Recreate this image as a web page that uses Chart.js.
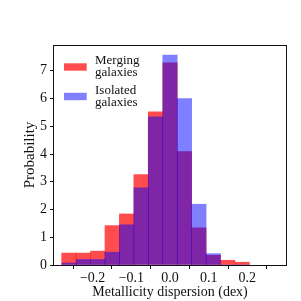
<!DOCTYPE html>
<html>
<head>
<meta charset="utf-8">
<script src="https://cdn.jsdelivr.net/npm/chart.js@4/dist/chart.umd.min.js"></script>
<style>
  html, body { margin: 0; padding: 0; background: #fff; }
  #wrap { width: 301px; height: 301px; }
</style>
</head>
<body>
<div id="wrap"><canvas id="c" width="301" height="301"></canvas></div>
<script>
// Bin centres (dex) of the metallicity dispersion histogram
const binCenters = [-0.2615, -0.2242, -0.1868, -0.1495, -0.1122, -0.0748, -0.0375,
                    0.0, 0.0373, 0.0747, 0.1120, 0.1493, 0.1867];
// Probability densities
const merging  = [0.43, 0.43, 0.50, 1.42, 1.84, 3.26, 5.52, 7.29, 4.09, 1.34, 0.35, 0.17, 0.10];
const isolated = [0.07, 0.20, 0.20, 0.46, 1.45, 2.78, 5.34, 7.57, 6.00, 2.19, 0.41, 0.0, 0.0];
// Axis ticks
const xTicks = [-0.2, -0.1, 0.0, 0.1, 0.2];
const yTicks = [0, 1, 2, 3, 4, 5, 6, 7];
const seriesLabels = [['Merging', 'galaxies'], ['Isolated', 'galaxies']];

const FONT = '"Liberation Serif", "DejaVu Serif", serif';
const RED = 'rgba(255, 0, 0, 0.7)';
const BLUE = 'rgba(0, 0, 255, 0.5)';

const toPoints = vals => vals.map((v, i) => ({ x: binCenters[i], y: v }));

// frame around the plot + legend in the upper left corner
const framePlugin = {
  id: 'frame',
  afterDraw(chart) {
    const { ctx, chartArea: a } = chart;
    ctx.save();
    ctx.strokeStyle = '#111';
    ctx.lineWidth = 1;
    ctx.strokeRect(Math.round(a.left) - 0.5, Math.round(a.top) + 0.5,
                   Math.round(a.right - a.left) + 1, Math.round(a.bottom - a.top));

    // legend
    const items = [
      { color: RED, text: seriesLabels[0], cy: 67 },
      { color: BLUE, text: seriesLabels[1], cy: 96.5 }
    ];
    ctx.font = '13px ' + FONT;
    ctx.textBaseline = 'middle';
    ctx.textAlign = 'left';
    items.forEach(it => {
      ctx.fillStyle = it.color;
      ctx.fillRect(64, it.cy - 3.7, 22.7, 7.4);
      ctx.fillStyle = '#111';
      ctx.fillText(it.text[0], 95, it.cy - 6);
      ctx.fillText(it.text[1], 95, it.cy + 6);
    });
    ctx.restore();
  }
};

new Chart(document.getElementById('c'), {
  type: 'bar',
  data: {
    datasets: [
      {
        label: 'Merging galaxies',
        data: toPoints(merging),
        backgroundColor: RED,
        borderWidth: 0,
        order: 1
      },
      {
        label: 'Isolated galaxies',
        data: toPoints(isolated),
        backgroundColor: BLUE,
        borderWidth: 0,
        order: 0
      }
    ]
  },
  options: {
    responsive: false,
    animation: false,
    devicePixelRatio: 1,
    layout: { padding: { top: 45, right: 15, left: 0, bottom: 0 } },
    datasets: {
      bar: { grouped: false, barPercentage: 1, categoryPercentage: 1 }
    },
    plugins: {
      legend: { display: false },
      tooltip: { enabled: false }
    },
    scales: {
      x: {
        type: 'linear',
        min: -0.3,
        max: 0.3,
        offset: false,
        afterBuildTicks: s => { s.ticks = xTicks.map(v => ({ value: v })); },
        afterFit: s => { s.height = 36; },
        grid: { drawOnChartArea: false, drawTicks: true, tickLength: 4, color: '#111' },
        border: { display: false },
        ticks: {
          padding: 1,
          color: '#111',
          font: { family: FONT, size: 14 },
          maxRotation: 0,
          callback: v => (v < 0 ? '\u2212' : '') + Math.abs(v).toFixed(1)
        },
        title: {
          display: true,
          text: 'Metallicity dispersion (dex)',
          color: '#111',
          font: { family: FONT, size: 14 },
          padding: { top: 0, bottom: 0 }
        }
      },
      y: {
        type: 'linear',
        min: 0,
        max: 7.93,
        afterBuildTicks: s => { s.ticks = yTicks.map(v => ({ value: v })); },
        afterFit: s => { s.width = 54; },
        grid: { drawOnChartArea: false, drawTicks: true, tickLength: 4, color: '#111' },
        border: { display: false },
        ticks: {
          padding: 3,
          color: '#111',
          font: { family: FONT, size: 14 }
        },
        title: {
          display: true,
          text: 'Probability',
          color: '#111',
          font: { family: FONT, size: 15 },
          padding: { top: 21, bottom: 0 }
        }
      }
    }
  },
  plugins: [framePlugin]
});
</script>
</body>
</html>
